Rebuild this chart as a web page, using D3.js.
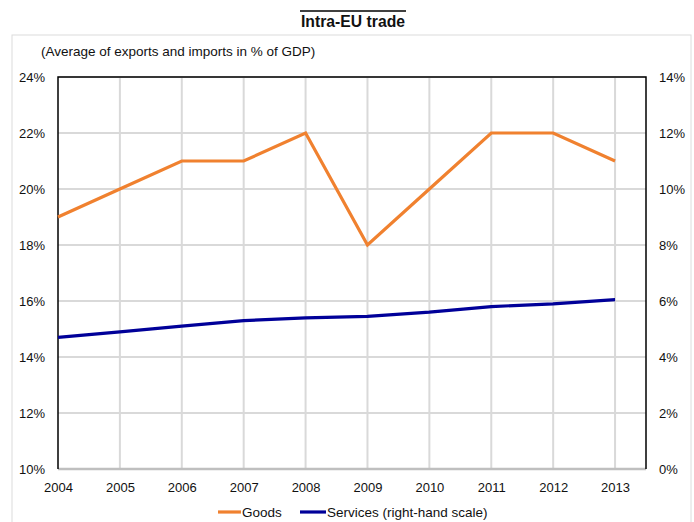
<!DOCTYPE html>
<html>
<head>
<meta charset="utf-8">
<script src="https://cdn.jsdelivr.net/npm/d3@7"></script>
<style>
  body { margin: 0; background: #fff; }
  svg { display: block; font-family: "Liberation Sans", Arial, sans-serif; }
</style>
</head>
<body>
<svg id="chart" width="694" height="522"></svg>
<script>
// Intra-EU trade, average of exports and imports in % of GDP
const years = [2004, 2005, 2006, 2007, 2008, 2009, 2010, 2011, 2012, 2013];
const goods = [19, 20, 21, 21, 22, 18, 20, 22, 22, 21];          // left scale
const services = [4.7, 4.9, 5.1, 5.3, 5.4, 5.45, 5.6, 5.8, 5.9, 6.05]; // right scale
const leftTicks = [10, 12, 14, 16, 18, 20, 22, 24];
const rightTicks = [0, 2, 4, 6, 8, 10, 12, 14];
const seriesNames = ["Goods", "Services (right-hand scale)"];

const svg = d3.select("#chart");
const plot = { left: 58, right: 646, top: 77, bottom: 469 };

const x = d3.scaleLinear().domain([2004, 2013.5]).range([plot.left, plot.right]);
const yL = d3.scaleLinear().domain([10, 24]).range([plot.bottom, plot.top]);
const yR = d3.scaleLinear().domain([0, 14]).range([plot.bottom, plot.top]);

// outer frame
svg.append("rect")
  .attr("x", 12).attr("y", 35).attr("width", 679).attr("height", 500)
  .attr("fill", "none").attr("stroke", "#dcdcdc").attr("stroke-width", 1);

// title with rule above (narrow bold face)
svg.append("line")
  .attr("x1", 300).attr("x2", 406).attr("y1", 11).attr("y2", 11)
  .attr("stroke", "#000").attr("stroke-width", 1.5);
svg.append("text")
  .attr("x", 301).attr("y", 27)
  .attr("font-family", "'Liberation Sans', Arial, sans-serif")
  .attr("font-weight", "bold").attr("font-size", 17).attr("fill", "#111")
  .attr("textLength", 104).attr("lengthAdjust", "spacingAndGlyphs")
  .text("Intra-EU trade");

svg.append("text")
  .attr("x", 41).attr("y", 56)
  .attr("font-size", 13.5).attr("fill", "#111")
  .text("(Average of exports and imports in % of GDP)");

// gridlines
const grid = svg.append("g").attr("stroke", "#d9d9d9").attr("stroke-width", 2);
grid.selectAll("line.h").data(leftTicks.slice(1)).join("line")
  .attr("x1", plot.left).attr("x2", plot.right)
  .attr("y1", d => yL(d)).attr("y2", d => yL(d));
grid.selectAll("line.v").data(years.slice(1)).join("line")
  .attr("x1", d => x(d)).attr("x2", d => x(d))
  .attr("y1", plot.top).attr("y2", plot.bottom);

// bottom axis line (grey)
svg.append("line")
  .attr("x1", plot.left).attr("x2", plot.right)
  .attr("y1", plot.bottom).attr("y2", plot.bottom)
  .attr("stroke", "#bfbfbf").attr("stroke-width", 2.5);

// frame of plot: left, top, right in black
svg.append("path")
  .attr("d", `M${plot.left},${plot.bottom}V${plot.top}H${plot.right}V${plot.bottom}`)
  .attr("fill", "none").attr("stroke", "#000").attr("stroke-width", 1.5);

// axes
const fmt = d => d + "%";
const axL = svg.append("g").attr("transform", `translate(${plot.left},0)`)
  .call(d3.axisLeft(yL).tickValues(leftTicks).tickFormat(fmt).tickSize(0).tickPadding(13));
const axR = svg.append("g").attr("transform", `translate(${plot.right},0)`)
  .call(d3.axisRight(yR).tickValues(rightTicks).tickFormat(fmt).tickSize(0).tickPadding(13));
const axB = svg.append("g").attr("transform", `translate(0,${plot.bottom})`)
  .call(d3.axisBottom(x).tickValues(years).tickFormat(d3.format("d")).tickSize(0).tickPadding(14));
[axL, axR, axB].forEach(a => {
  a.select(".domain").remove();
  a.selectAll("text").attr("font-size", 13).attr("fill", "#111")
    .attr("font-family", "'Liberation Sans', Arial, sans-serif");
});
axL.selectAll("text").attr("dy", "0.35em");
axR.selectAll("text").attr("dy", "0.35em");

// series lines
const lineL = d3.line().x((d, i) => x(years[i])).y(d => yL(d));
const lineR = d3.line().x((d, i) => x(years[i])).y(d => yR(d));
svg.append("path").datum(goods).attr("d", lineL)
  .attr("fill", "none").attr("stroke", "#f0812f").attr("stroke-width", 3.2)
  .attr("stroke-linejoin", "miter");
svg.append("path").datum(services).attr("d", lineR)
  .attr("fill", "none").attr("stroke", "#000099").attr("stroke-width", 3.2)
  .attr("stroke-linejoin", "miter");

// legend
const legend = [
  { name: seriesNames[0], color: "#f0812f", x: 218, w: 23 },
  { name: seriesNames[1], color: "#000099", x: 300, w: 26 }
];
const lg = svg.append("g");
legend.forEach(l => {
  lg.append("line").attr("x1", l.x).attr("x2", l.x + l.w).attr("y1", 512).attr("y2", 512)
    .attr("stroke", l.color).attr("stroke-width", 3.2);
  lg.append("text").attr("x", l.x + l.w + 1).attr("y", 517)
    .attr("font-size", 13.5).attr("fill", "#111").text(l.name);
});
</script>
</body>
</html>
